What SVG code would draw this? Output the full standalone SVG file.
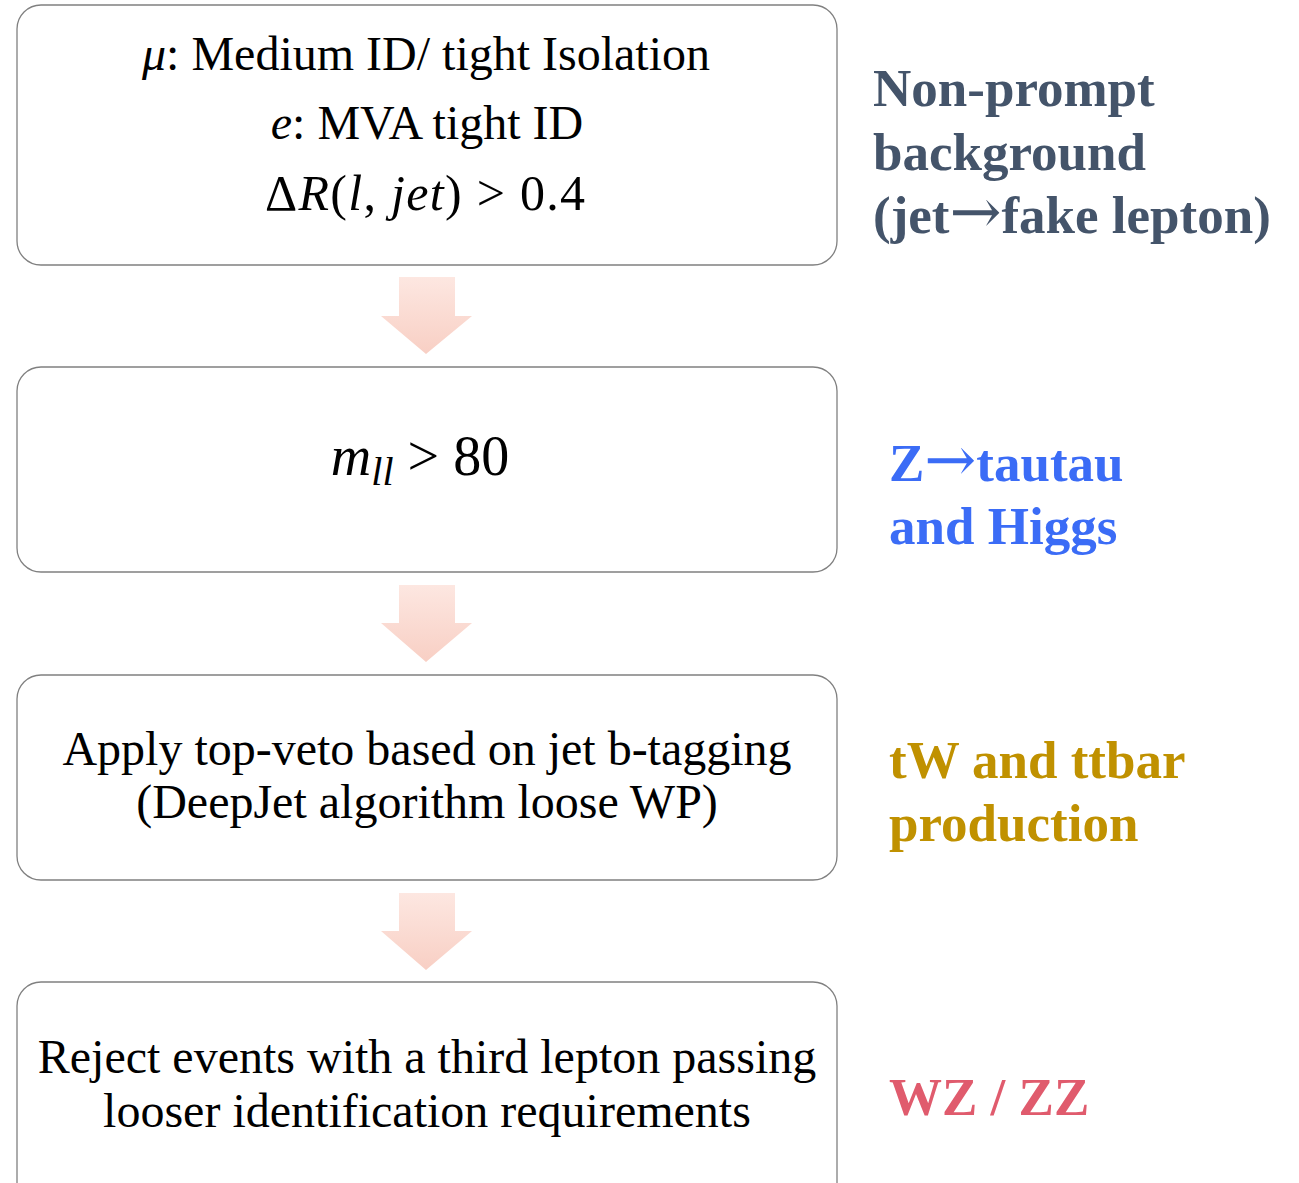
<svg xmlns="http://www.w3.org/2000/svg" width="1299" height="1183" viewBox="0 0 1299 1183">
<style>
.box{fill:#fff;stroke:#808080;stroke-width:1.3}
.t{font-family:"Liberation Serif","Times New Roman",serif;fill:#000;text-anchor:middle}
.i{font-style:italic}
.lab{font-family:"Liberation Serif","Times New Roman",serif;font-weight:bold;font-size:53px}
.ar{font-family:"DejaVu Serif",serif;font-weight:normal}
.arr{fill:url(#g)}
</style>
<defs>
<linearGradient id="g" x1="0" y1="0" x2="0" y2="1">
<stop offset="0" stop-color="#fde7e1"/>
<stop offset="1" stop-color="#f8cfc4"/>
</linearGradient>
</defs>
<rect width="1299" height="1183" fill="#fff"/>
<g id="connectors">
<path class="arr" d="M399 277H455V316H472L426 354L381 316H399Z"/>
<path class="arr" d="M399 585H455V623H472L426 662L381 623H399Z"/>
<path class="arr" d="M399 893H455V931H472L426 970L381 931H399Z"/>
</g>
<g id="node1">
<rect class="box" x="17" y="5" width="820" height="260" rx="24"/>
<text class="t" x="426" y="70" font-size="48"><tspan class="i">μ</tspan>: Medium ID/ tight Isolation</text>
<text class="t" x="427" y="139" font-size="48"><tspan class="i">e</tspan>: MVA tight ID</text>
<text class="t" x="425" y="210" font-size="50" textLength="320" lengthAdjust="spacing">Δ<tspan class="i">R</tspan>(<tspan class="i">l</tspan>, <tspan class="i">jet</tspan>) &gt; 0.4</text>
</g>
<g id="node2">
<rect class="box" x="17" y="367" width="820" height="205" rx="24"/>
<text class="t" x="420" y="475" font-size="56"><tspan class="i">m</tspan><tspan class="i" font-size="40" dy="10">ll</tspan><tspan dy="-10"> &gt; 80</tspan></text>
</g>
<g id="node3">
<rect class="box" x="17" y="675" width="820" height="205" rx="24"/>
<text class="t" x="427" y="765" font-size="48">Apply top-veto based on jet b-tagging</text>
<text class="t" x="427" y="818" font-size="48">(DeepJet algorithm loose WP)</text>
</g>
<g id="node4">
<rect class="box" x="17" y="982" width="820" height="240" rx="24"/>
<text class="t" x="427" y="1073" font-size="48">Reject events with a third lepton passing</text>
<text class="t" x="427" y="1127" font-size="48">looser identification requirements</text>
</g>
<g id="label1" fill="#44546a">
<text class="lab" x="873" y="106">Non-prompt</text>
<text class="lab" x="873" y="170">background</text>
<text class="lab" x="873" y="233">(jet<tspan class="ar" font-size="62">→</tspan>fake lepton)</text>
</g>
<g id="label2" fill="#3b6cf6">
<text class="lab" x="889" y="481">Z<tspan class="ar" font-size="62">→</tspan>tautau</text>
<text class="lab" x="889" y="544">and Higgs</text>
</g>
<g id="label3" fill="#c09100">
<text class="lab" x="889" y="778">tW and ttbar</text>
<text class="lab" x="889" y="841">production</text>
</g>
<g id="label4" fill="#e05b6d">
<text class="lab" x="889" y="1115">WZ / ZZ</text>
</g>
</svg>
